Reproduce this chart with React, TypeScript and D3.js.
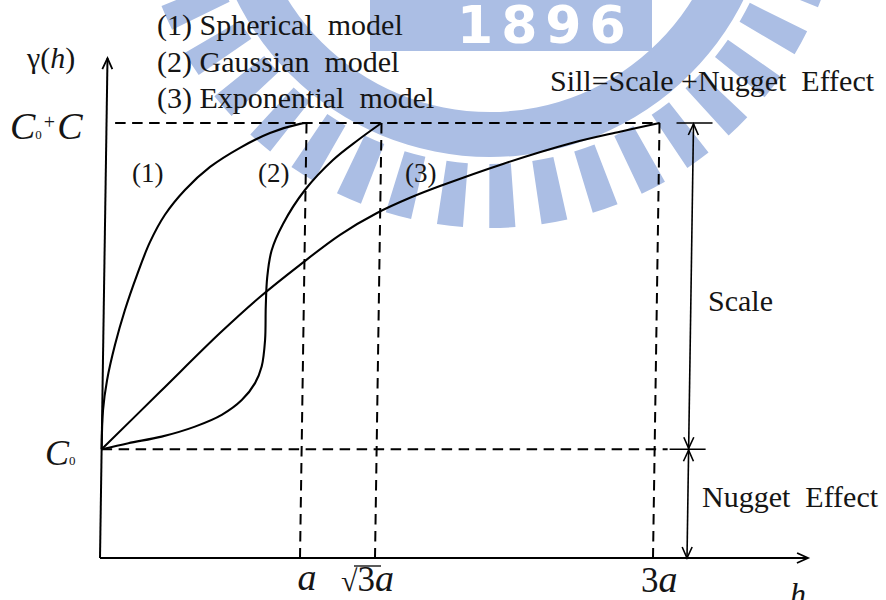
import React from "react";
import * as d3 from "d3";

// positions along h are the sketch's own (units of a as drawn), gamma in units of the sill
const tickLabels = ["a", "√3a", "3a"];
const tickPos = [1, 1.375, 2.765];
const nugget = 0.25;
const sill = 1;
const arrowH = 2.935;
const legendLabels = ["(1) Spherical\u00a0\u00a0model", "(2) Gaussian\u00a0\u00a0model", "(3) Exponential\u00a0\u00a0model"];
const curveLabels = ["(1)", "(2)", "(3)"];
const curveLabelPos = [0.16, 0.79, 1.525];

const spherical: [number, number][] = [
    [0, 0.25], [0.004, 0.34], [0.022, 0.409], [0.059, 0.49], [0.106, 0.57],
    [0.164, 0.651], [0.226, 0.726], [0.299, 0.789], [0.397, 0.846], [0.521, 0.899],
    [0.669, 0.943], [0.818, 0.977], [0.967, 0.998], [1.0, 1.0],
];
const gaussian: [number, number][] = [
    [0, 0.25], [0.133, 0.264], [0.299, 0.279], [0.465, 0.302], [0.598, 0.329],
    [0.697, 0.363], [0.762, 0.402], [0.794, 0.44], [0.809, 0.501], [0.81, 0.578],
    [0.815, 0.645], [0.835, 0.707], [0.89, 0.768], [0.997, 0.846],
    [1.135, 0.915], [1.259, 0.961], [1.375, 1.0],
];
const exponential: [number, number][] = [
    [0, 0.25], [0.288, 0.382], [0.583, 0.517], [0.78, 0.6], [0.978, 0.674],
    [1.176, 0.743], [1.359, 0.793], [1.523, 0.828], [1.672, 0.855], [1.985, 0.906],
    [2.319, 0.953], [2.568, 0.98], [2.765, 1.0],
];

export default function App() {
    const ref = React.useRef<SVGSVGElement>(null);
    React.useEffect(() => {
        const width = 886;
        const height = 600;
        const x = d3.scaleLinear().domain([0, 3.54]).range([100, 808]);
        const y = d3.scaleLinear().domain([0, 1]).range([558, 123]);
        const blue = "#abbee4";
        const ink = "#151515";
        const serif = "'Liberation Serif', 'Times New Roman', serif";

        const svg = d3.select(ref.current);
        svg.selectAll("*").remove();
        svg.attr("width", width).attr("height", height).attr("viewBox", [0, 0, width, height]);

        // faint logo watermark behind the figure
        const arc = d3.arc();
        const wm = svg.append("g").attr("fill", blue).attr("transform", "translate(490,-126)");
        wm.append("path").attr("d", arc({ innerRadius: 238, outerRadius: 283, startAngle: 0, endAngle: 2 * Math.PI }));
        for (let deg = 110; deg <= 252; deg += 8.5) {
            const a = (deg * Math.PI) / 180;
            wm.append("path").attr("d", arc({ innerRadius: 290, outerRadius: 354, startAngle: a - 0.037, endAngle: a + 0.037 }));
        }
        svg.append("rect").attr("x", 370).attr("y", -5).attr("width", 282).attr("height", 56).attr("fill", blue);
        svg.append("text")
            .attr("x", 457).attr("y", 43)
            .attr("fill", "white")
            .attr("font-family", "DejaVu Sans")
            .attr("font-weight", "bold")
            .attr("font-size", 52)
            .attr("letter-spacing", 8)
            .text("1896");

        // the drawing is slightly sheared, lean it the same way
        const shear = (-Math.atan(0.015) * 180) / Math.PI;
        const g = svg.append("g")
            .attr("transform", `translate(0,${y(0)}) skewX(${shear}) translate(0,${-y(0)})`)
            .attr("fill", "none")
            .attr("stroke", "#000");

        const chevron = (cx: number, cy: number, dir: string) => {
            const p = d3.path();
            const L = 11, w = 5;
            if (dir === "up") { p.moveTo(cx - w, cy + L); p.lineTo(cx, cy); p.lineTo(cx + w, cy + L); }
            if (dir === "down") { p.moveTo(cx - w, cy - L); p.lineTo(cx, cy); p.lineTo(cx + w, cy - L); }
            if (dir === "right") { p.moveTo(cx - L, cy - w); p.lineTo(cx, cy); p.lineTo(cx - L, cy + w); }
            return p.toString();
        };

        // axes
        g.append("line").attr("x1", x(0)).attr("x2", x(0)).attr("y1", y(0)).attr("y2", y(1.149)).attr("stroke-width", 2);
        g.append("path").attr("d", chevron(x(0), y(1.149), "up")).attr("stroke-width", 1.8);
        g.append("line").attr("x1", x(0)).attr("x2", x(3.54)).attr("y1", y(0)).attr("y2", y(0)).attr("stroke-width", 2);
        g.append("path").attr("d", chevron(x(3.54), y(0), "right")).attr("stroke-width", 1.8);

        // dashed guides
        const dash = "10.5,6.5";
        g.append("line").attr("x1", x(0.043)).attr("x2", x(tickPos[2])).attr("y1", y(sill)).attr("y2", y(sill))
            .attr("stroke-width", 2).attr("stroke-dasharray", dash);
        g.append("line").attr("x1", x(0)).attr("x2", x(2.83)).attr("y1", y(nugget)).attr("y2", y(nugget))
            .attr("stroke-width", 2).attr("stroke-dasharray", dash);
        g.selectAll(".vguide")
            .data(tickPos)
            .join("line")
            .attr("x1", (d) => x(d)).attr("x2", (d) => x(d))
            .attr("y1", y(sill)).attr("y2", y(0))
            .attr("stroke-width", 2).attr("stroke-dasharray", dash);

        // scale / nugget dimension arrows
        g.append("line").attr("x1", x(2.85)).attr("x2", x(3.03)).attr("y1", y(sill)).attr("y2", y(sill)).attr("stroke-width", 1.6);
        g.append("line").attr("x1", x(2.84)).attr("x2", x(3.02)).attr("y1", y(nugget)).attr("y2", y(nugget)).attr("stroke-width", 1.6);
        g.append("line").attr("x1", x(arrowH)).attr("x2", x(arrowH)).attr("y1", y(sill) + 1).attr("y2", y(0)).attr("stroke-width", 1.6);
        g.append("path").attr("d", chevron(x(arrowH), y(sill) + 1, "up")).attr("stroke-width", 1.6);
        g.append("path").attr("d", chevron(x(arrowH), y(nugget) - 1, "down")).attr("stroke-width", 1.6);
        g.append("path").attr("d", chevron(x(arrowH), y(nugget) + 1, "up")).attr("stroke-width", 1.6);
        g.append("path").attr("d", chevron(x(arrowH), y(0), "down")).attr("stroke-width", 1.6);

        // model curves
        const line = d3.line<[number, number]>()
            .x((d) => x(d[0]))
            .y((d) => y(d[1]))
            .curve(d3.curveCatmullRom.alpha(0.5));
        g.selectAll(".model")
            .data([spherical, gaussian, exponential])
            .join("path")
            .attr("d", (d) => line(d))
            .attr("stroke-width", 2.1);

        // texts
        const t = svg.append("g").attr("font-family", serif).attr("fill", ink);

        const yl = t.append("text").attr("x", 27).attr("y", 68).attr("font-size", 30);
        yl.append("tspan").text("γ(");
        yl.append("tspan").attr("font-style", "italic").text("h");
        yl.append("tspan").text(")");

        t.selectAll(".legend")
            .data(legendLabels)
            .join("text")
            .attr("x", 157)
            .attr("y", (d, i) => 35 + i * 36.5)
            .attr("font-size", 30)
            .text((d) => d);

        t.selectAll(".clabel")
            .data(curveLabels)
            .join("text")
            .attr("x", (d, i) => x(curveLabelPos[i]))
            .attr("y", 182)
            .attr("font-size", 27)
            .text((d) => d);

        const sl = t.append("text").attr("x", 10).attr("y", y(sill) + 16);
        sl.append("tspan").attr("font-size", 38).attr("font-style", "italic").text("C");
        sl.append("tspan").attr("font-size", 13).text("0");
        sl.append("tspan").attr("font-size", 20).attr("dx", 2).attr("dy", -10).text("+");
        sl.append("tspan").attr("font-size", 38).attr("font-style", "italic").attr("dx", 2).attr("dy", 10).text("C");

        const nl = t.append("text").attr("x", 45).attr("y", y(nugget) + 16);
        nl.append("tspan").attr("font-size", 36).attr("font-style", "italic").text("C");
        nl.append("tspan").attr("font-size", 13).text("0");

        // h-axis tick labels
        t.append("text").attr("x", x(tickPos[0]) + 7).attr("y", 590).attr("text-anchor", "middle")
            .attr("font-size", 38).attr("font-style", "italic").text(tickLabels[0]);
        const r = t.append("text").attr("x", x(tickPos[1]) - 34).attr("y", 591);
        r.append("tspan").attr("font-size", 30).text(tickLabels[1].slice(0, 1));
        r.append("tspan").attr("font-size", 35).text(tickLabels[1].slice(1, 2));
        r.append("tspan").attr("font-size", 38).attr("font-style", "italic").text(tickLabels[1].slice(2));
        t.append("line").attr("x1", x(tickPos[1]) - 21).attr("x2", x(tickPos[1]) + 6)
            .attr("y1", 566).attr("y2", 566).attr("stroke", ink).attr("stroke-width", 1.4);
        const th = t.append("text").attr("x", x(tickPos[2]) - 12).attr("y", 592);
        th.append("tspan").attr("font-size", 35).text(tickLabels[2].slice(0, 1));
        th.append("tspan").attr("font-size", 38).attr("font-style", "italic").text(tickLabels[2].slice(1));
        t.append("text").attr("x", 790).attr("y", 605).attr("font-size", 32).attr("font-style", "italic").text("h");

        t.append("text").attr("x", 550).attr("y", 91).attr("font-size", 30).text("Sill=Scale +Nugget\u00a0\u00a0Effect");
        t.append("text").attr("x", 708).attr("y", 311).attr("font-size", 30).text("Scale");
        t.append("text").attr("x", 702).attr("y", 507).attr("font-size", 30).text("Nugget\u00a0\u00a0Effect");
    }, []);

    return (
        <svg
            ref={ref}
            style={{ position: "absolute", left: 0, top: 0, background: "#fff" }}
        ></svg>
    );
}
